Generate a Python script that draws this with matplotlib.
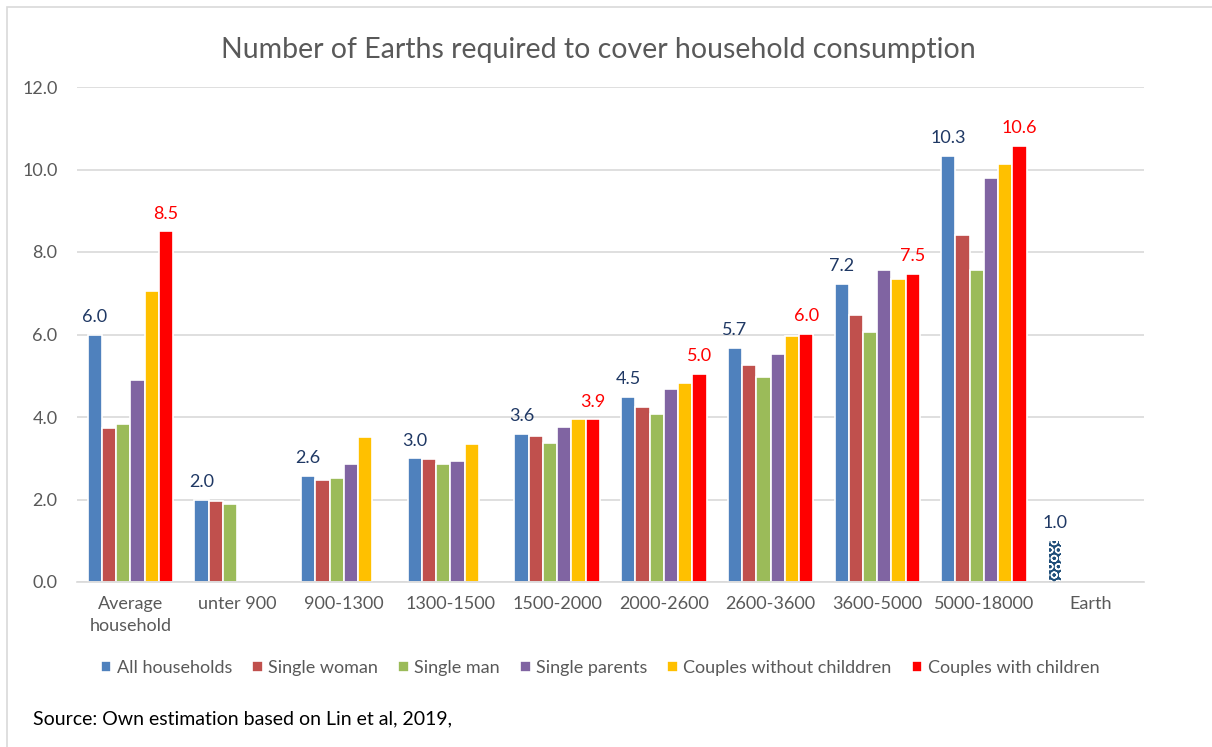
import numpy as np
import matplotlib
matplotlib.use("Agg")
import matplotlib.pyplot as plt
from matplotlib.patches import Rectangle

# data
categories = ["Average\nhousehold", "unter 900", "900-1300", "1300-1500", "1500-2000",
              "2000-2600", "2600-3600", "3600-5000", "5000-18000", "Earth"]
nan = np.nan
all_households = [6.0, 2.0, 2.57, 3.0, 3.6, 4.48, 5.67, 7.22, 10.33, nan]
single_woman = [3.74, 1.96, 2.48, 2.98, 3.53, 4.25, 5.27, 6.47, 8.41, nan]
single_man = [3.82, 1.88, 2.52, 2.87, 3.37, 4.08, 4.98, 6.07, 7.56, nan]
single_parents = [4.9, nan, 2.87, 2.93, 3.76, 4.67, 5.53, 7.56, 9.79, nan]
couples_no_kids = [7.06, nan, 3.52, 3.35, 3.95, 4.83, 5.97, 7.35, 10.13, nan]
couples_kids = [8.5, nan, nan, nan, 3.94, 5.04, 6.02, 7.47, 10.57, nan]
earth = 1.0

series = [
    ("All households", all_households, "#4F81BD"),
    ("Single woman", single_woman, "#C0504D"),
    ("Single man", single_man, "#9BBB59"),
    ("Single parents", single_parents, "#8064A2"),
    ("Couples without childdren", couples_no_kids, "#FFC000"),
    ("Couples with children", couples_kids, "#FF0000"),
]

plt.rcParams["font.family"] = ["Lato", "DejaVu Sans"]
txt_grey = "#595959"
grid_grey = "#D9D9D9"

fig = plt.figure(figsize=(12.12, 7.47), dpi=100)
ax = fig.add_axes([77 / 1212, 1 - 582 / 747, (1144 - 77) / 1212, (582 - 87) / 747])

x = np.arange(len(categories))
w = 0.8 / len(series)
for i, (name, vals, col) in enumerate(series):
    pos = x - 0.4 + w * (i + 0.5)
    ax.bar(pos, vals, width=w, color=col, edgecolor="white", linewidth=1.2, label=name)

    # data labels only on the first and last series
    if i == 0 or i == len(series) - 1:
        lab_col = "#1F3864" if i == 0 else "#FF0000"
        for p, v in zip(pos, vals):
            if not np.isnan(v):
                ax.annotate(f"{v:.1f}", (p, v), xytext=(0, 7), textcoords="offset points",
                            ha="center", va="bottom", fontsize=13, color=lab_col)

# the Earth reference bar sits in the first slot, patterned
earth_x = x[-1] - 0.4 + w * 0.5
ax.bar(earth_x, earth, width=w * 0.85, color="#1F4E79", edgecolor="white",
       hatch="OO", linewidth=0)
ax.annotate(f"{earth:.1f}", (earth_x, earth), xytext=(0, 7), textcoords="offset points",
            ha="center", va="bottom", fontsize=13, color="#1F3864")

ax.set_xlim(-0.5, len(categories) - 0.5)
ax.set_ylim(0, 12)
ax.set_yticks(np.arange(0, 12.1, 2))
ax.set_yticklabels([f"{t:.1f}" for t in np.arange(0, 12.1, 2)])
ax.set_xticks(x)
ax.set_xticklabels(categories, linespacing=1.5)
ax.tick_params(axis="both", length=0, labelsize=13, colors=txt_grey)
ax.tick_params(axis="y", pad=14)
ax.tick_params(axis="x", pad=10)
ax.yaxis.grid(True, color=grid_grey, linewidth=1.2)
ax.set_axisbelow(True)
for s in ["top", "right", "left"]:
    ax.spines[s].set_visible(False)
ax.spines["bottom"].set_color(grid_grey)
ax.spines["bottom"].set_linewidth(1.2)

fig.text(598 / 1212, 1 - 50 / 747, "Number of Earths required to cover household consumption",
         ha="center", va="center", fontsize=20.5, color=txt_grey)

handles, labels = ax.get_legend_handles_labels()
fig.legend(handles, labels, loc="center", bbox_to_anchor=(600 / 1212, 1 - 668 / 747),
           ncol=6, frameon=False, fontsize=13, labelcolor=txt_grey,
           handlelength=0.6, handleheight=0.6, handletextpad=0.3, columnspacing=1.1)

fig.text(33 / 1212, 1 - 719 / 747, "Source: Own estimation based on Lin et al, 2019,",
         ha="left", va="center", fontsize=14, color="black")

# chart frame (runs off the right and bottom edges like the screenshot)
fig.patches.append(Rectangle((7 / 1212, -0.1), 1.2, 1 - 7 / 747 + 0.1, transform=fig.transFigure,
                             fill=False, edgecolor=grid_grey, linewidth=1.2))

fig.savefig("out.png", dpi=100)
